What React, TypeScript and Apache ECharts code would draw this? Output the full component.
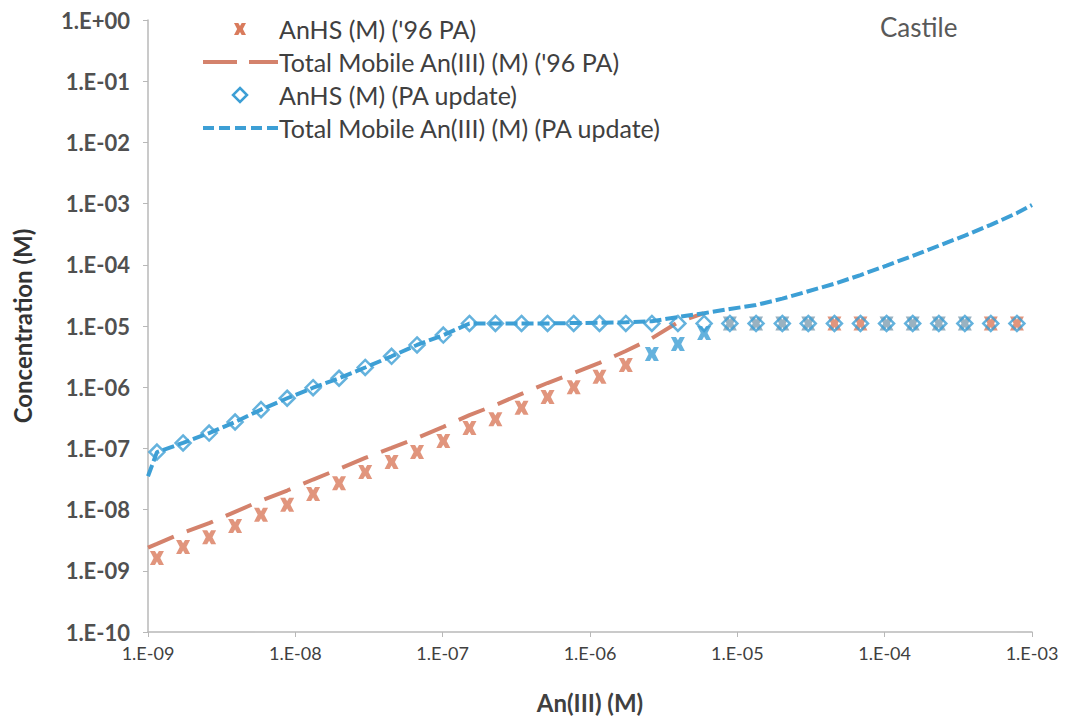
import React, { useEffect, useRef } from "react";
import * as echarts from "echarts";

// An(III) concentrations (x), shared by the markers
const xPoints = [
  1.15e-9, 1.73e-9, 2.6e-9, 3.9e-9, 5.85e-9, 8.8e-9, 1.32e-8, 1.98e-8, 2.98e-8, 4.5e-8,
  6.7e-8, 1.01e-7, 1.52e-7, 2.28e-7, 3.43e-7, 5.15e-7, 7.75e-7, 1.16e-6, 1.75e-6, 2.63e-6,
  3.95e-6, 5.95e-6, 8.9e-6, 1.34e-5, 2.02e-5, 3.03e-5, 4.56e-5, 6.85e-5, 1.03e-4, 1.55e-4,
  2.33e-4, 3.5e-4, 5.25e-4, 7.9e-4,
];

// AnHS (M) ('96 PA)
const anhs96 = [
  1.62e-9, 2.45e-9, 3.55e-9, 5.4e-9, 8.2e-9, 1.2e-8, 1.8e-8, 2.7e-8, 4.1e-8, 6.0e-8,
  8.7e-8, 1.32e-7, 2.15e-7, 3.0e-7, 4.6e-7, 6.9e-7, 1.0e-6, 1.48e-6, 2.3e-6, 3.5e-6,
  5.1e-6, 7.7e-6, 1.1e-5, 1.1e-5, 1.1e-5, 1.1e-5, 1.1e-5, 1.1e-5, 1.1e-5, 1.1e-5,
  1.1e-5, 1.1e-5, 1.1e-5, 1.1e-5,
];

// AnHS (M) (PA update)
const anhsUpdate = [
  8.7e-8, 1.23e-7, 1.78e-7, 2.7e-7, 4.3e-7, 6.6e-7, 9.8e-7, 1.4e-6, 2.1e-6, 3.2e-6,
  4.9e-6, 7.1e-6, 1.1e-5, 1.1e-5, 1.1e-5, 1.1e-5, 1.1e-5, 1.1e-5, 1.1e-5, 1.1e-5,
  1.1e-5, 1.1e-5, 1.1e-5, 1.1e-5, 1.1e-5, 1.1e-5, 1.1e-5, 1.1e-5, 1.1e-5, 1.1e-5,
  1.1e-5, 1.1e-5, 1.1e-5, 1.1e-5,
];

// Total Mobile An(III) (M) ('96 PA)
const total96X = [
  1e-9, 1.15e-9, 1.73e-9, 2.6e-9, 3.9e-9, 5.85e-9, 8.8e-9, 1.32e-8, 1.98e-8, 2.98e-8, 4.5e-8,
  6.7e-8, 1.01e-7, 1.52e-7, 2.28e-7, 3.43e-7, 5.15e-7, 7.75e-7, 1.16e-6, 1.75e-6, 2.63e-6,
  3.95e-6, 5.95e-6,
];
const total96 = [
  2.4e-9, 2.75e-9, 4.2e-9, 6.0e-9, 9.2e-9, 1.4e-8, 2.05e-8, 3.1e-8, 4.6e-8, 7.0e-8, 1.02e-7,
  1.48e-7, 2.25e-7, 3.5e-7, 5.1e-7, 7.8e-7, 1.17e-6, 1.7e-6, 2.5e-6, 3.9e-6, 6.3e-6,
  1.15e-5, 1.62e-5,
];

// Total Mobile An(III) (M) (PA update)
const totalUpdX = [
  1e-9, 1.15e-9, 1.73e-9, 2.6e-9, 3.9e-9, 5.85e-9, 8.8e-9, 1.32e-8, 1.98e-8, 2.98e-8, 4.5e-8,
  6.7e-8, 1.01e-7, 1.52e-7, 2.28e-7, 3.43e-7, 5.15e-7, 7.75e-7, 1.16e-6, 1.75e-6, 2.63e-6,
  3.95e-6, 5.95e-6, 8.9e-6, 1.34e-5, 2.02e-5, 3.03e-5, 4.56e-5, 6.85e-5, 1.03e-4, 1.55e-4,
  2.33e-4, 3.5e-4, 5.25e-4, 7.9e-4, 1e-3,
];
const totalUpd = [
  3.5e-8, 8.7e-8, 1.23e-7, 1.78e-7, 2.7e-7, 4.3e-7, 6.6e-7, 9.8e-7, 1.4e-6, 2.1e-6, 3.2e-6,
  4.9e-6, 7.1e-6, 1.1e-5, 1.1e-5, 1.1e-5, 1.1e-5, 1.12e-5, 1.13e-5, 1.15e-5, 1.2e-5,
  1.4e-5, 1.62e-5, 1.9e-5, 2.2e-5, 2.8e-5, 3.7e-5, 4.9e-5, 6.8e-5, 9.7e-5, 1.4e-4,
  2.05e-4, 3.0e-4, 4.5e-4, 7.0e-4, 9.5e-4,
];

const seriesNames = [
  "AnHS (M) ('96 PA)",
  "Total Mobile An(III) (M) ('96 PA)",
  "AnHS (M) (PA update)",
  "Total Mobile An(III) (M) (PA update)",
];

const BLUE = "#3d9fd5";
const ORANGE = "#d97b5c";
const RED_LINE = "#d4826c";
const FONT = 'Lato, "Open Sans", sans-serif';
const CROSS = "path://M0,0 L3.6,0 L5,2.4 L6.4,0 L10,0 L7.4,5 L10,10 L6.4,10 L5,7.6 L3.6,10 L0,10 L2.6,5 Z";
const CROSS_PTS = [
  [0, 0], [3.6, 0], [5, 2.4], [6.4, 0], [10, 0], [7.4, 5], [10, 10], [6.4, 10], [5, 7.6],
  [3.6, 10], [0, 10], [2.6, 5],
];

// which '96 PA markers appear tinted in the scanned figure
const blueTintIdx = [19, 20, 21];
const orangeKeepIdx = [26, 27, 32, 33];

const fmt = (v: number) => {
  const e = Math.round(Math.log10(v));
  const s = e >= 0 ? "+" : "-";
  const a = Math.abs(e);
  return "1.E" + s + (a < 10 ? "0" + a : "" + a);
};

export default function App() {
  const ref = useRef<HTMLDivElement>(null);
  useEffect(() => {
    if (!ref.current) return;
    const chart = echarts.init(ref.current, undefined, { renderer: "svg" });
    const crossData = xPoints.map((x, i) => {
      let color = ORANGE;
      if (blueTintIdx.includes(i)) color = BLUE;
      else if (i >= 22 && !orangeKeepIdx.includes(i)) color = "#7f9fb2";
      return { value: [x, anhs96[i]], itemStyle: { color } };
    });

    // hand-drawn legend (Excel style)
    const rowY = [29, 62, 95, 128];
    const iconCx = 240;
    const textX = 279;
    const legendEls: any[] = [
      {
        type: "polygon",
        shape: { points: CROSS_PTS.map(([px, py]) => [iconCx - 6 + px * 1.2, rowY[0] - 6 + py * 1.2]) },
        style: { fill: ORANGE },
      },
      {
        type: "line",
        shape: { x1: 203, y1: rowY[1], x2: 237, y2: rowY[1] },
        style: { stroke: RED_LINE, lineWidth: 4 },
      },
      {
        type: "line",
        shape: { x1: 249, y1: rowY[1], x2: 278, y2: rowY[1] },
        style: { stroke: RED_LINE, lineWidth: 4 },
      },
      {
        type: "polygon",
        shape: {
          points: [
            [iconCx, rowY[2] - 7],
            [iconCx + 7, rowY[2]],
            [iconCx, rowY[2] + 7],
            [iconCx - 7, rowY[2]],
          ],
        },
        style: { fill: "none", stroke: BLUE, lineWidth: 2.5 },
      },
      {
        type: "line",
        shape: { x1: 203, y1: rowY[3], x2: 278, y2: rowY[3] },
        style: { stroke: BLUE, lineWidth: 4, lineDash: [11, 5] },
      },
    ];
    seriesNames.forEach((n, i) => {
      legendEls.push({
        type: "text",
        x: textX,
        y: rowY[i],
        style: {
          text: n,
          fontSize: 25,
          fill: "#404040",
          fontFamily: FONT,
          verticalAlign: "middle",
          textAlign: "left",
        },
      });
    });

    chart.setOption({
      animation: false,
      textStyle: { fontFamily: FONT },
      grid: { left: 148, right: 40, top: 20, bottom: 92, outerBoundsMode: "none", containLabel: false },
      legend: { show: false, data: seriesNames },
      graphic: [
        ...legendEls,
        {
          type: "text",
          x: 880,
          y: 27,
          style: {
            text: "Castile",
            fontSize: 26,
            fill: "#595959",
            fontFamily: FONT,
            verticalAlign: "middle",
          },
        },
      ],
      xAxis: {
        type: "log",
        logBase: 10,
        min: 1e-9,
        max: 1e-3,
        interval: 1,
        name: "An(III) (M)",
        nameLocation: "middle",
        nameGap: 58,
        nameTextStyle: { fontSize: 24, fontWeight: "bold", color: "#404040", fontFamily: FONT },
        axisLine: { lineStyle: { color: "#b8b8b8", width: 1.5 } },
        axisTick: { show: true, length: 5, lineStyle: { color: "#b8b8b8" } },
        minorTick: { show: false },
        splitLine: { show: false },
        axisLabel: { formatter: fmt, fontSize: 18, color: "#404040", margin: 12, fontFamily: FONT },
      },
      yAxis: {
        type: "log",
        logBase: 10,
        min: 1e-10,
        max: 1,
        interval: 1,
        name: "Concentration (M)",
        nameLocation: "middle",
        nameGap: 114,
        nameTextStyle: { fontSize: 24, fontWeight: "bold", color: "#333333", fontFamily: FONT },
        axisLine: { show: true, lineStyle: { color: "#b8b8b8", width: 1.5 } },
        axisTick: { show: true, length: 5, lineStyle: { color: "#b8b8b8" } },
        splitLine: { show: false },
        axisLabel: {
          formatter: fmt,
          fontSize: 22,
          color: "#505050",
          fontWeight: "bold",
          margin: 18,
          fontFamily: FONT,
        },
      },
      series: [
        {
          name: seriesNames[1],
          type: "line",
          data: total96X.map((x, i) => [x, total96[i]]),
          showSymbol: false,
          symbol: "none",
          z: 2,
          lineStyle: { color: RED_LINE, width: 4, type: [28, 14] },
          itemStyle: { color: RED_LINE },
        },
        {
          name: seriesNames[3],
          type: "line",
          data: totalUpdX.map((x, i) => [x, totalUpd[i]]),
          showSymbol: false,
          symbol: "none",
          z: 3,
          lineStyle: { color: BLUE, width: 4, type: [12, 4] },
          itemStyle: { color: BLUE },
        },
        {
          name: seriesNames[0],
          type: "scatter",
          data: crossData,
          symbol: CROSS,
          symbolSize: 14,
          z: 4,
          itemStyle: { color: ORANGE },
        },
        {
          name: seriesNames[2],
          type: "scatter",
          data: xPoints.map((x, i) => [x, anhsUpdate[i]]),
          symbol: "diamond",
          symbolSize: 15,
          z: 5,
          itemStyle: { color: "rgba(255,255,255,0)", borderColor: BLUE, borderWidth: 2.5 },
        },
      ],
    });
    return () => chart.dispose();
  }, []);
  return (
    <div
      ref={ref}
      style={{ position: "fixed", left: 0, top: 0, width: 1072, height: 724, background: "#fff" }}
    />
  );
}
